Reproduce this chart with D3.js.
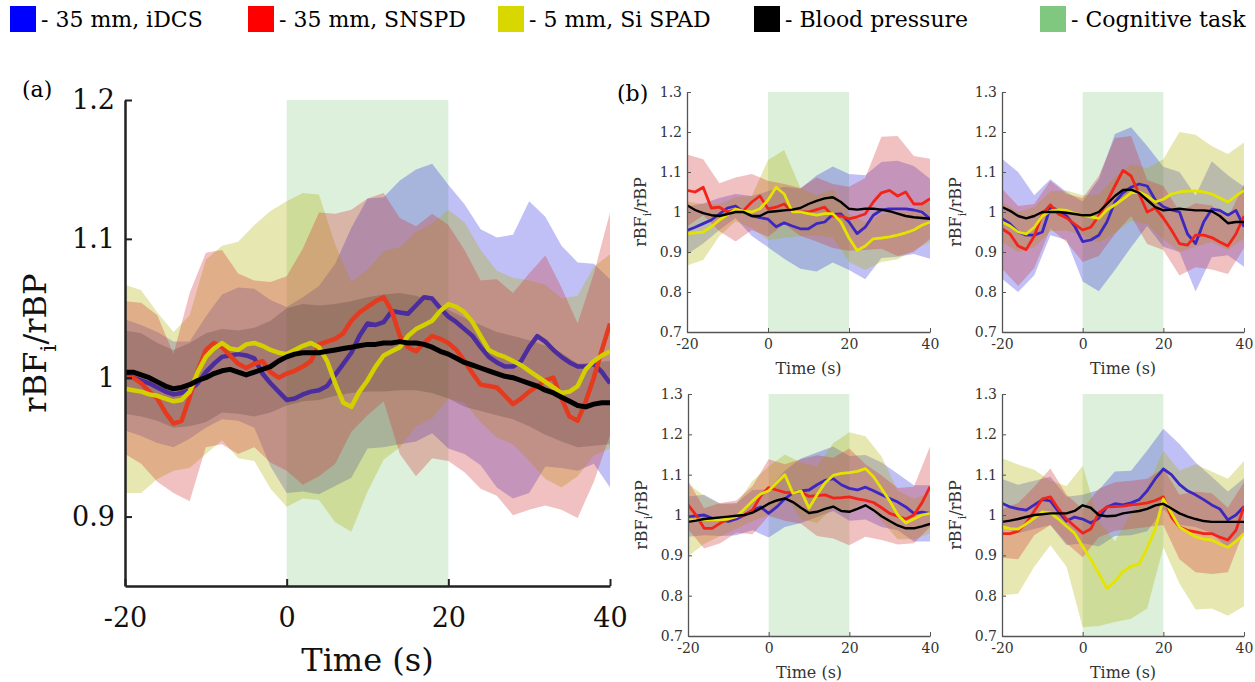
<!DOCTYPE html>
<html>
<head>
<meta charset="utf-8">
<script src="https://cdn.jsdelivr.net/npm/d3@7"></script>
<style>
  body { margin: 0; background: #fff; }
  svg text { font-family: 'DejaVu Serif', serif; }
</style>
</head>
<body>
<div id="chart"></div>
<script>
/* global d3 */

// series order: iDCS (blue), SNSPD (red), Si SPAD (yellow), blood pressure (black)
const keys = ['blue', 'red', 'yellow', 'black']
// bands are stacked in a different order so the overlaps come out brownish like the original
const bandOrder = ['blue', 'yellow', 'red', 'black']
const legendLabels = ['- 35 mm, iDCS', '- 35 mm, SNSPD', '- 5 mm, Si SPAD', '- Blood pressure', '- Cognitive task']
const legendColors = ['#0000ff', '#ff0000', '#d8d800', '#000000', '#80c880']

const xTicks = [-20, 0, 20, 40]
const mainYTicks = [0.9, 1, 1.1, 1.2]
const subYTicks = [0.7, 0.8, 0.9, 1, 1.1, 1.2, 1.3]
const taskWindow = [0, 20]

// time grids (s)
const mainT = d3.range(-20, 41, 1)
const mainBandT = d3.range(-20, 41, 2)
const subT = d3.range(-20, 41, 2)
const subBandT = d3.range(-20, 41, 4)

// (a) averaged traces, one value per second
const mainBlue = [1.002, 1.0, 0.998, 0.996, 0.993, 0.99, 0.988, 0.989, 0.991, 0.996,
  1.004, 1.01, 1.015, 1.016, 1.017, 1.016, 1.014, 1.003, 0.996, 0.99,
  0.984, 0.985, 0.988, 0.99, 0.991, 0.994, 1.002, 1.01, 1.018, 1.03,
  1.039, 1.038, 1.04, 1.048, 1.047, 1.046, 1.052, 1.058, 1.057, 1.05,
  1.044, 1.04, 1.035, 1.03, 1.022, 1.015, 1.011, 1.008, 1.008, 1.012,
  1.022, 1.03, 1.026, 1.02, 1.015, 1.011, 1.008, 1.008, 1.01, 1.004, 0.996]
const mainRed = [1.0, 1.0, 0.996, 0.99, 0.985, 0.975, 0.967, 0.969, 0.986, 1.005,
  1.02, 1.025, 1.022, 1.016, 1.01, 1.007, 1.01, 1.012, 1.004, 1.0,
  1.003, 1.005, 1.008, 1.012, 1.024, 1.026, 1.028, 1.032, 1.041, 1.047,
  1.051, 1.055, 1.058, 1.048, 1.03, 1.022, 1.019, 1.025, 1.03, 1.028,
  1.025, 1.02, 1.012, 1.003, 0.995, 0.994, 0.993, 0.987, 0.981, 0.985,
  0.99, 0.994, 0.998, 1.0, 0.985, 0.972, 0.969, 0.983, 1.0, 1.02, 1.039]
const mainYellow = [0.992, 0.991, 0.99, 0.988, 0.987, 0.985, 0.983, 0.984, 0.99, 1.004,
  1.015, 1.021, 1.025, 1.021, 1.02, 1.024, 1.025, 1.023, 1.02, 1.018,
  1.017, 1.02, 1.023, 1.025, 1.022, 1.012, 0.996, 0.982, 0.979, 0.99,
  0.998, 1.008, 1.016, 1.019, 1.022, 1.03, 1.035, 1.038, 1.041, 1.048,
  1.053, 1.051, 1.047, 1.04, 1.03, 1.02, 1.017, 1.015, 1.012, 1.009,
  1.005, 1.001, 0.997, 0.993, 0.989, 0.99, 0.994, 1.006, 1.012, 1.016, 1.019]
const mainBlack = [1.004, 1.004, 1.002, 1.0, 0.997, 0.994, 0.992, 0.993, 0.995, 0.998,
  1.0, 1.003, 1.005, 1.006, 1.004, 1.002, 1.004, 1.006, 1.008, 1.012,
  1.015, 1.017, 1.018, 1.018, 1.018, 1.019, 1.02, 1.021, 1.022, 1.023,
  1.024, 1.024, 1.025, 1.025, 1.026, 1.025, 1.025, 1.024, 1.022, 1.019,
  1.017, 1.014, 1.011, 1.009, 1.007, 1.005, 1.003, 1.001, 1.0, 0.998,
  0.996, 0.994, 0.991, 0.989, 0.986, 0.983, 0.98, 0.979, 0.981, 0.982, 0.982]

// (a) band half widths, every 2 s
const mainBandBlue = [0.04, 0.04, 0.04, 0.038, 0.035, 0.04, 0.045, 0.048, 0.05, 0.06, 0.067, 0.07, 0.075, 0.08, 0.09, 0.09,
  0.09, 0.095, 0.098, 0.097, 0.095, 0.09, 0.085, 0.09, 0.095, 0.105, 0.09, 0.08, 0.075, 0.072, 0.075]
const mainBandRed = [0.055, 0.058, 0.06, 0.05, 0.075, 0.07, 0.07, 0.065, 0.06, 0.065, 0.07, 0.085, 0.095, 0.09, 0.08, 0.078,
  0.075, 0.085, 0.09, 0.088, 0.085, 0.08, 0.075, 0.078, 0.08, 0.085, 0.09, 0.08, 0.07, 0.075, 0.08]
const mainBandYellow = [0.075, 0.073, 0.06, 0.05, 0.055, 0.07, 0.07, 0.078, 0.085, 0.1, 0.11, 0.11, 0.11, 0.1, 0.09, 0.08,
  0.075, 0.072, 0.07, 0.07, 0.068, 0.065, 0.062, 0.06, 0.06, 0.065, 0.07, 0.068, 0.065, 0.068, 0.07]
const mainBandBlack = [0.03, 0.03, 0.028, 0.028, 0.03, 0.032, 0.03, 0.03, 0.032, 0.033, 0.035, 0.035, 0.034, 0.033, 0.033, 0.034,
  0.035, 0.035, 0.034, 0.033, 0.032, 0.032, 0.031, 0.03, 0.03, 0.031, 0.032, 0.032, 0.03, 0.03, 0.03]

// (b) top left, every 2 s
const tlBlue = [0.954, 0.962, 0.971, 0.98, 0.995, 1.01, 1.015, 1.0, 0.99, 0.986,
  0.982, 0.963, 0.973, 0.965, 0.958, 0.958, 0.971, 0.975, 0.994, 0.995,
  0.975, 0.946, 0.962, 0.992, 1.005, 1.008, 1.008, 1.008, 1.005, 1.0, 0.983]
const tlRed = [1.054, 1.05, 1.062, 1.01, 1.012, 1.0, 1.006, 1.004, 1.025, 1.04,
  1.008, 1.012, 1.02, 1.0, 1.0, 1.0, 1.006, 1.012, 0.99, 0.99,
  0.983, 0.988, 0.995, 1.025, 1.048, 1.054, 1.04, 1.05, 1.02, 1.02, 1.033]
const tlYellow = [0.946, 0.948, 0.95, 0.963, 0.98, 0.993, 1.007, 1.002, 1.0, 1.008,
  1.03, 1.062, 1.045, 1.0, 1.0, 0.996, 0.992, 0.996, 0.996, 0.975,
  0.935, 0.904, 0.915, 0.933, 0.935, 0.938, 0.942, 0.948, 0.955, 0.967, 0.975]
const tlBlack = [1.017, 1.005, 0.997, 0.992, 0.99, 0.995, 1.0, 1.0, 0.99, 0.99,
  1.0, 1.002, 1.004, 1.006, 1.01, 1.02, 1.028, 1.034, 1.037, 1.025,
  1.008, 1.006, 1.008, 1.008, 1.006, 1.002, 0.996, 0.99, 0.987, 0.985, 0.983]
const tlBandBlue = [0.06, 0.05, 0.04, 0.03, 0.05, 0.07, 0.09, 0.1, 0.12, 0.12, 0.12, 0.13, 0.12, 0.12, 0.11, 0.1]
const tlBandRed = [0.09, 0.07, 0.06, 0.08, 0.07, 0.07, 0.05, 0.06, 0.08, 0.08, 0.08, 0.09, 0.14, 0.15, 0.12, 0.1]
const tlBandYellow = [0.08, 0.07, 0.04, 0.03, 0.04, 0.1, 0.11, 0.06, 0.05, 0.06, 0.06, 0.06, 0.06, 0.06, 0.05, 0.05]

// (b) top right
const trBlue = [0.983, 0.97, 0.95, 0.942, 0.942, 0.95, 1.012, 1.005, 0.99, 0.965,
  0.926, 0.93, 0.942, 0.975, 1.025, 1.048, 1.062, 1.07, 1.065, 1.03,
  1.013, 1.005, 1.0, 0.945, 0.921, 0.975, 1.007, 1.004, 0.992, 1.004, 0.963]
const trRed = [0.958, 0.945, 0.915, 0.906, 0.94, 0.995, 1.018, 0.995, 0.985, 0.97,
  0.955, 0.962, 0.99, 1.025, 1.065, 1.104, 1.09, 1.045, 1.0, 1.01,
  0.985, 0.955, 0.921, 0.917, 0.942, 0.942, 0.936, 0.925, 0.915, 0.945, 0.99]
const trYellow = [0.975, 0.965, 0.95, 0.945, 0.962, 0.99, 1.002, 1.006, 1.004, 0.996,
  0.992, 0.988, 0.984, 1.005, 1.018, 1.032, 1.048, 1.05, 1.04, 1.025,
  1.032, 1.045, 1.05, 1.052, 1.053, 1.05, 1.045, 1.035, 1.025, 1.04, 1.054]
const trBlack = [1.0125, 1.003, 0.99, 0.984, 0.99, 1.0, 1.0, 1.0, 0.998, 0.995,
  0.992, 0.992, 1.0, 1.02, 1.04, 1.055, 1.056, 1.048, 1.03, 1.012,
  1.004, 1.006, 1.008, 1.006, 1.004, 1.004, 1.002, 0.99, 0.972, 0.975, 0.975]
const trBandBlue = [0.15, 0.15, 0.1, 0.07, 0.06, 0.1, 0.14, 0.17, 0.15, 0.1, 0.1, 0.1, 0.12, 0.12, 0.1, 0.1]
const trBandRed = [0.1, 0.1, 0.08, 0.06, 0.06, 0.08, 0.1, 0.12, 0.1, 0.08, 0.08, 0.08, 0.08, 0.08, 0.07, 0.08]
const trBandYellow = [0.05, 0.05, 0.05, 0.05, 0.05, 0.05, 0.06, 0.07, 0.07, 0.07, 0.1, 0.15, 0.14, 0.12, 0.12, 0.12]

// (b) bottom left
const blBlue = [0.996, 0.998, 1.0, 0.992, 0.988, 0.984, 0.99, 1.0, 1.012, 1.02,
  1.004, 1.02, 1.04, 1.055, 1.06, 1.062, 1.075, 1.086, 1.09, 1.075,
  1.066, 1.062, 1.069, 1.06, 1.05, 1.041, 1.032, 1.02, 1.004, 1.007, 1.004]
const blRed = [1.025, 1.0, 0.967, 0.967, 0.98, 0.99, 0.996, 1.0, 1.012, 1.047,
  1.068, 1.062, 1.056, 1.055, 1.058, 1.046, 1.048, 1.05, 1.042, 1.043,
  1.045, 1.04, 1.036, 1.031, 1.018, 1.004, 0.997, 0.99, 1.0, 1.03, 1.07]
const blYellow = [0.988, 0.988, 0.988, 0.988, 0.988, 0.99, 0.996, 1.015, 1.035, 1.052,
  1.06, 1.08, 1.1, 1.054, 1.06, 1.017, 1.05, 1.08, 1.098, 1.103,
  1.105, 1.108, 1.115, 1.095, 1.065, 1.035, 1.0, 0.98, 0.99, 1.0, 1.004]
const blBlack = [0.983, 0.986, 0.99, 0.992, 0.994, 0.996, 0.998, 1.0, 1.006, 1.016,
  1.028, 1.036, 1.041, 1.032, 1.018, 1.005, 1.008, 1.015, 1.021, 1.01,
  1.008, 1.015, 1.024, 1.012, 0.997, 0.985, 0.974, 0.967, 0.967, 0.972, 0.978]
const blBandBlue = [0.05, 0.05, 0.04, 0.04, 0.05, 0.06, 0.07, 0.08, 0.08, 0.08, 0.08, 0.08, 0.08, 0.07, 0.07, 0.07]
const blBandRed = [0.06, 0.05, 0.05, 0.04, 0.06, 0.07, 0.07, 0.08, 0.1, 0.1, 0.12, 0.09, 0.08, 0.07, 0.07, 0.1]
const blBandYellow = [0.09, 0.06, 0.04, 0.03, 0.05, 0.06, 0.05, 0.07, 0.07, 0.08, 0.1, 0.08, 0.08, 0.06, 0.05, 0.05]

// (b) bottom right
const brBlue = [1.029, 1.02, 1.015, 1.012, 1.025, 1.038, 1.035, 1.008, 0.985, 0.995,
  0.99, 0.98, 0.992, 1.02, 1.028, 1.025, 1.03, 1.038, 1.06, 1.09,
  1.114, 1.1, 1.076, 1.06, 1.05, 1.038, 1.025, 1.015, 0.988, 1.0, 1.021]
const brRed = [0.954, 0.954, 0.96, 0.98, 1.01, 1.04, 1.045, 1.015, 0.99, 0.972,
  0.955, 0.965, 1.005, 1.02, 1.021, 1.022, 1.025, 1.027, 1.03, 1.036,
  1.045, 0.995, 0.97, 0.962, 0.958, 0.954, 0.954, 0.945, 0.938, 0.962, 1.021]
const brYellow = [0.971, 0.966, 0.965, 0.978, 0.992, 1.008, 1.005, 0.99, 0.972, 0.955,
  0.922, 0.89, 0.855, 0.818, 0.835, 0.86, 0.873, 0.878, 0.918, 0.965,
  1.04, 1.005, 0.97, 0.958, 0.946, 0.94, 0.938, 0.928, 0.92, 0.935, 0.954]
const brBlack = [0.983, 0.986, 0.99, 0.995, 1.0, 1.002, 1.004, 1.004, 1.004, 1.01,
  1.024, 1.018, 1.0, 0.997, 0.998, 1.004, 1.007, 1.01, 1.015, 1.024,
  1.028, 1.016, 1.004, 0.996, 0.99, 0.985, 0.983, 0.983, 0.983, 0.983, 0.983]
const brBandBlue = [0.06, 0.06, 0.06, 0.06, 0.06, 0.06, 0.07, 0.08, 0.08, 0.1, 0.1, 0.1, 0.08, 0.07, 0.07, 0.07]
const brBandRed = [0.06, 0.07, 0.06, 0.07, 0.06, 0.06, 0.06, 0.06, 0.06, 0.06, 0.07, 0.08, 0.1, 0.1, 0.08, 0.06]
const brBandYellow = [0.17, 0.16, 0.12, 0.08, 0.1, 0.2, 0.13, 0.1, 0.13, 0.15, 0.12, 0.14, 0.18, 0.17, 0.17, 0.18]

const bandColors = { blue: '#3030e0', red: '#d03030', yellow: '#b0b000', black: '#000000' }
const bandOpacity = { blue: 0.3, red: 0.3, yellow: 0.3, black: 0.15 }

const svg = d3.select('#chart').append('svg')
  .attr('width', 1255)
  .attr('height', 682)

let clipCount = 0

const drawPanel = (p) => {
  const x = d3.scaleLinear().domain([-20, 40]).range([p.left, p.right])
  const y = d3.scaleLinear().domain(p.yDomain).range([p.bottom, p.top])
  const g = svg.append('g')

  const clipId = 'clip' + (clipCount++)
  g.append('clipPath').attr('id', clipId)
    .append('rect')
    .attr('x', p.left).attr('y', p.top)
    .attr('width', p.right - p.left).attr('height', p.bottom - p.top)

  const plot = g.append('g').attr('clip-path', `url(#${clipId})`)

  // cognitive task window
  plot.append('rect')
    .attr('x', x(taskWindow[0]))
    .attr('y', p.top)
    .attr('width', x(taskWindow[1]) - x(taskWindow[0]))
    .attr('height', p.bottom - p.top)
    .attr('fill', '#dcf0dc')

  // std bands
  bandOrder.forEach((k) => {
    if (!p.bands[k]) return
    const pts = p.bandT.map((t, i) => {
      const mid = p.lines[k][p.lineT.indexOf(t)]
      return { t, lo: mid - p.bands[k][i], hi: mid + p.bands[k][i] }
    })
    plot.append('path')
      .datum(pts)
      .attr('fill', bandColors[k])
      .attr('fill-opacity', bandOpacity[k])
      .attr('d', d3.area()
        .x(d => x(d.t))
        .y0(d => y(d.lo))
        .y1(d => y(d.hi)))
  })

  // mean traces
  keys.forEach((k) => {
    const pts = p.lineT.map((t, i) => ({ t, v: p.lines[k][i] }))
    plot.append('path')
      .datum(pts)
      .attr('fill', 'none')
      .attr('stroke', p.lineColors[k])
      .attr('stroke-width', k === 'black' ? p.blackW : p.lineW)
      .attr('stroke-linejoin', 'round')
      .attr('d', d3.line().x(d => x(d.t)).y(d => y(d.v)))
  })

  // axes, ticks pointing inwards
  const yAxis = g.append('g')
    .attr('transform', `translate(${p.left},0)`)
    .call(d3.axisLeft(y)
      .tickValues(p.yTicks)
      .tickFormat(d => String(d))
      .tickSizeInner(-p.tick)
      .tickSizeOuter(0)
      .tickPadding(p.yPad))
  const xAxis = g.append('g')
    .attr('transform', `translate(0,${p.bottom})`)
    .call(d3.axisBottom(x)
      .tickValues(xTicks)
      .tickFormat(d => String(d))
      .tickSizeInner(-p.tick)
      .tickSizeOuter(0)
      .tickPadding(p.xPad))

  ;[yAxis, xAxis].forEach((a) => {
    a.attr('font-family', 'DejaVu Serif')
    a.select('.domain').attr('stroke', p.axisColor).attr('stroke-width', p.axisW)
    a.selectAll('.tick line').attr('stroke', p.axisColor).attr('stroke-width', p.axisW * 0.8)
    a.selectAll('.tick text').attr('font-size', p.tickFont).attr('fill', p.textColor)
  })

  // axis titles
  svg.append('text')
    .attr('x', (p.left + p.right) / 2)
    .attr('y', p.timeY)
    .attr('text-anchor', 'middle')
    .attr('font-size', p.labFont)
    .attr('fill', p.textColor)
    .text('Time (s)')

  const yl = svg.append('text')
    .attr('transform', `translate(${p.ylabX},${(p.top + p.bottom) / 2}) rotate(-90)`)
    .attr('text-anchor', 'middle')
    .attr('font-size', p.labFont)
    .attr('fill', p.textColor)
  yl.append('tspan').text('rBF')
  yl.append('tspan').attr('font-size', p.labFont * 0.7).attr('dy', p.labFont * 0.3).text('i')
  yl.append('tspan').attr('dy', -p.labFont * 0.3).text('/rBP')
}

const mainLineColors = { blue: '#4b2d9d', red: '#e63a1e', yellow: '#d4d000', black: '#000000' }
const subLineColors = { blue: '#3c28c0', red: '#f2241a', yellow: '#e4e400', black: '#000000' }

drawPanel({
  left: 125, right: 610, top: 100, bottom: 586,
  yDomain: [0.85, 1.2], yTicks: mainYTicks,
  lineT: mainT, bandT: mainBandT,
  lines: { blue: mainBlue, red: mainRed, yellow: mainYellow, black: mainBlack },
  bands: { blue: mainBandBlue, red: mainBandRed, yellow: mainBandYellow, black: mainBandBlack },
  lineColors: mainLineColors, lineW: 4.5, blackW: 5,
  tick: 7, yPad: 10, xPad: 22, tickFont: 27, labFont: 32,
  ylabX: 46, timeY: 671, axisColor: '#222', axisW: 2.5, textColor: '#111'
})

const subPanels = [
  { left: 687, right: 930, top: 92, bottom: 332, lines: { blue: tlBlue, red: tlRed, yellow: tlYellow, black: tlBlack }, bands: { blue: tlBandBlue, red: tlBandRed, yellow: tlBandYellow } },
  { left: 1002, right: 1244, top: 92, bottom: 332, lines: { blue: trBlue, red: trRed, yellow: trYellow, black: trBlack }, bands: { blue: trBandBlue, red: trBandRed, yellow: trBandYellow } },
  { left: 688, right: 930, top: 394, bottom: 636, lines: { blue: blBlue, red: blRed, yellow: blYellow, black: blBlack }, bands: { blue: blBandBlue, red: blBandRed, yellow: blBandYellow } },
  { left: 1002, right: 1244, top: 394, bottom: 636, lines: { blue: brBlue, red: brRed, yellow: brYellow, black: brBlack }, bands: { blue: brBandBlue, red: brBandRed, yellow: brBandYellow } }
]

subPanels.forEach((s) => {
  drawPanel({
    ...s,
    yDomain: [0.7, 1.3], yTicks: subYTicks,
    lineT: subT, bandT: subBandT,
    lineColors: subLineColors, lineW: 2.8, blackW: 2.4,
    tick: 4, yPad: 5, xPad: 7, tickFont: 14, labFont: 16,
    ylabX: s.left - 41, timeY: s.bottom + 42, axisColor: '#555', axisW: 1.3, textColor: '#333'
  })
})

// panel letters
svg.append('text').attr('x', 22).attr('y', 97).attr('font-size', 22).text('(a)')
svg.append('text').attr('x', 617).attr('y', 101).attr('font-size', 22).text('(b)')

// legend row
const legendX = [10, 248, 498, 754, 1040]
const legend = svg.append('g')
legendLabels.forEach((label, i) => {
  legend.append('rect')
    .attr('x', legendX[i]).attr('y', 6)
    .attr('width', 26).attr('height', 26)
    .attr('fill', legendColors[i])
  legend.append('text')
    .attr('x', legendX[i] + 31).attr('y', 27)
    .attr('font-size', 22)
    .text(label)
})
</script>
</body>
</html>
